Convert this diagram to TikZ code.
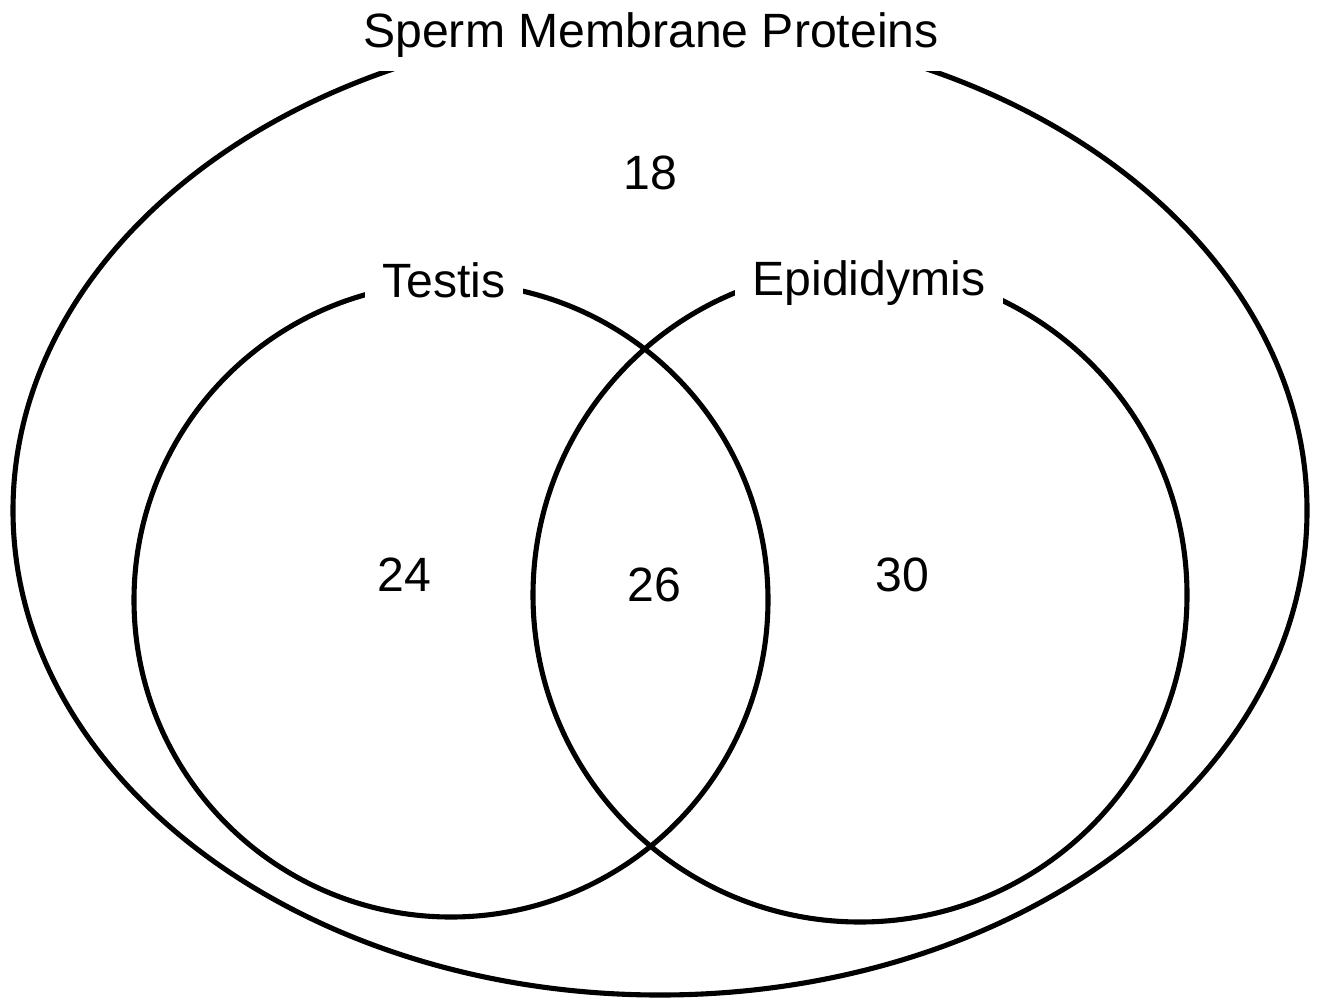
\documentclass[tikz,border=0pt]{standalone}
\usepackage{fontspec}
\setmainfont{Liberation Sans}
\usepackage{tikz}
\usetikzlibrary{positioning}

\begin{document}
\begin{tikzpicture}[line width=1.45pt, every node/.style={font=\fontsize{13.7}{16}\selectfont}]
    \useasboundingbox (0,0) rectangle (13.2,9.98);
    % sets
    \draw (6.60,4.875) ellipse [x radius=6.47, y radius=4.845];
    \draw (4.51,3.98) circle [radius=3.17];
    \draw (8.60,4.03) circle [radius=3.27];

    \node[fill=white,inner xsep=4pt,inner ysep=4pt] (all) at (6.51,9.63) {Sperm Membrane Proteins};
    \node[fill=white,inner xsep=5pt,inner ysep=2pt] (testis) at (4.44,7.18) {Testis};
    \node[fill=white,inner xsep=5pt,inner ysep=2pt] (epi) at (8.69,7.15) {Epididymis};

    \node (n18) at (6.50,8.25) {18};
    \node (n24) at (4.04,4.23) {24};
    \node (n26) at (6.54,4.13) {26};
    \node (n30) at (9.02,4.23) {30};
\end{tikzpicture}
\end{document}
